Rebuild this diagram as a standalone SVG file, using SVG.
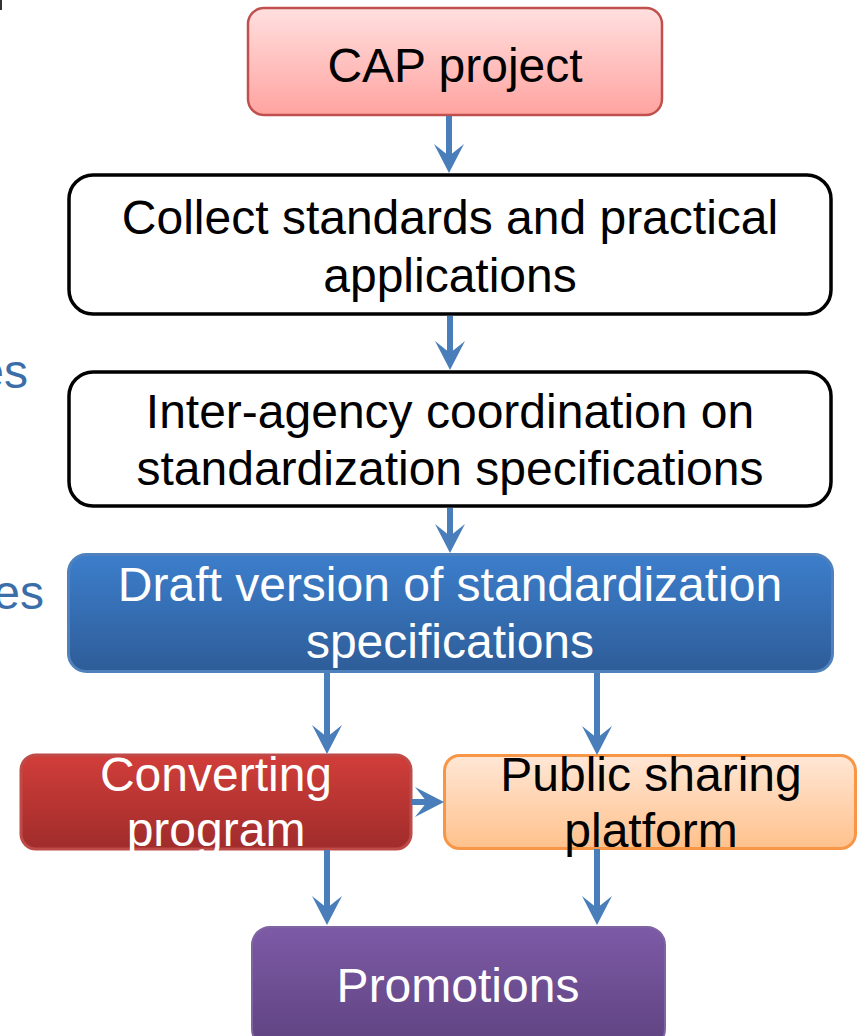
<svg xmlns="http://www.w3.org/2000/svg" width="858" height="1036" viewBox="0 0 858 1036">
<style>
  text { font-family: "Liberation Sans", Arial, sans-serif; font-size: 48px; text-anchor: middle; }
  .dark { fill: #000000; }
  .light { fill: #ffffff; }
  .side { fill: #3B6EA8; text-anchor: end; }
  .plain { fill: #ffffff; stroke: #000000; stroke-width: 3.5; }
  .conn { stroke: #4A7EBB; stroke-width: 6; fill: none; marker-end: url(#arrow); }
</style>
<defs>
  <linearGradient id="gRed" x1="0" y1="0" x2="0" y2="1">
    <stop offset="0" stop-color="#FFE0DF"/>
    <stop offset="1" stop-color="#FFA3A0"/>
  </linearGradient>
  <linearGradient id="gBlue" x1="0" y1="0" x2="0" y2="1">
    <stop offset="0" stop-color="#3C7ECC"/>
    <stop offset="1" stop-color="#2E5D98"/>
  </linearGradient>
  <linearGradient id="gDarkRed" x1="0" y1="0" x2="0" y2="1">
    <stop offset="0" stop-color="#D13E3A"/>
    <stop offset="1" stop-color="#A02C2B"/>
  </linearGradient>
  <linearGradient id="gOrange" x1="0" y1="0" x2="0" y2="1">
    <stop offset="0" stop-color="#FFE7D6"/>
    <stop offset="1" stop-color="#FFC18C"/>
  </linearGradient>
  <linearGradient id="gPurple" x1="0" y1="0" x2="0" y2="1">
    <stop offset="0" stop-color="#7D5AA6"/>
    <stop offset="1" stop-color="#5E4380"/>
  </linearGradient>
  <clipPath id="clipConv">
    <rect x="19" y="753" width="394" height="99"/>
  </clipPath>
  <marker id="arrow" viewBox="0 0 30 30" refX="14" refY="15" markerWidth="30" markerHeight="30" markerUnits="userSpaceOnUse" orient="auto">
    <path d="M30 15 L1 0 L13 15 L1 30 Z" fill="#4A7EBB"/>
  </marker>
</defs>

<rect x="0" y="0" width="2" height="10" fill="#333333"/>
<text class="side" x="28" y="388">es</text>
<text class="side" x="44" y="609">es</text>

<g id="node-cap">
  <rect x="248" y="8" width="414" height="107" rx="16" fill="url(#gRed)" stroke="#C0504D" stroke-width="2.5"/>
  <text class="dark" x="455" y="82">CAP project</text>
</g>

<g id="node-collect">
  <rect class="plain" x="69" y="175" width="762" height="139" rx="24"/>
  <text class="dark" x="450" y="234">Collect standards and practical</text>
  <text class="dark" x="450" y="292">applications</text>
</g>

<g id="node-interagency">
  <rect class="plain" x="69" y="372" width="762" height="134" rx="24"/>
  <text class="dark" x="450" y="428">Inter-agency coordination on</text>
  <text class="dark" x="450" y="485">standardization specifications</text>
</g>

<g id="node-draft">
  <rect x="68.5" y="554.5" width="764" height="117" rx="18" fill="url(#gBlue)" stroke="#4F81BD" stroke-width="3"/>
  <text class="light" x="450" y="601">Draft version of standardization</text>
  <text class="light" x="450" y="658">specifications</text>
</g>

<g id="node-converting">
  <rect x="21" y="755" width="390" height="94" rx="15" fill="url(#gDarkRed)" stroke="#BE4B48" stroke-width="3"/>
  <g clip-path="url(#clipConv)">
    <text class="light" x="216" y="791">Converting</text>
    <text class="light" x="216" y="846">program</text>
  </g>
</g>

<g id="node-public">
  <rect x="444.5" y="755.5" width="411" height="93" rx="15" fill="url(#gOrange)" stroke="#F79646" stroke-width="3"/>
  <text class="dark" x="651" y="791">Public sharing</text>
  <text class="dark" x="651" y="847">platform</text>
</g>

<g id="node-promotions">
  <rect x="252" y="927" width="413" height="120" rx="18" fill="url(#gPurple)" stroke="#8064A2" stroke-width="2"/>
  <text class="light" x="458" y="1002">Promotions</text>
</g>

<g id="connectors">
  <line class="conn" x1="449" y1="116" x2="449" y2="157"/>
  <line class="conn" x1="450" y1="316" x2="450" y2="354"/>
  <line class="conn" x1="450" y1="508" x2="450" y2="537"/>
  <line class="conn" x1="327" y1="673" x2="327" y2="738"/>
  <line class="conn" x1="597" y1="673" x2="597" y2="739"/>
  <line class="conn" x1="412" y1="802" x2="428" y2="802"/>
  <line class="conn" x1="327" y1="850" x2="327" y2="909"/>
  <line class="conn" x1="597" y1="849" x2="597" y2="909"/>
</g>
</svg>
